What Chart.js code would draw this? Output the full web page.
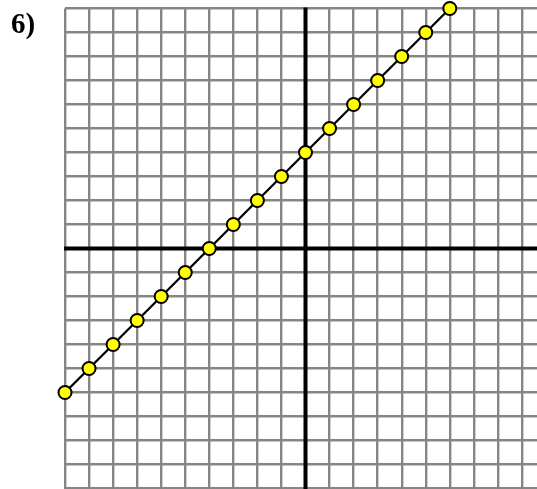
<!DOCTYPE html>
<html>
<head>
<meta charset="utf-8">
<script src="https://cdn.jsdelivr.net/npm/chart.js@4/dist/chart.umd.min.js"></script>
<style>
	html, body { margin: 0; padding: 0; overflow: hidden; background: #fff; }
	#wrap { position: relative; width: 537px; height: 489px; overflow: hidden; }
	#label { position: absolute; left: 11px; top: 7px; font: bold 29px "Liberation Serif", "Times New Roman", serif; line-height: 1.107; color: #000; }
	#myChart { position: absolute; left: 0; top: 0; }
</style>
</head>
<body>
<div id="wrap">
	<canvas id="myChart" width="562" height="497"></canvas>
	<div id="label">6)</div>
</div>
<script>
// plotted points (x, y)
const xValues = [-10, -9, -8, -7, -6, -5, -4, -3, -2, -1, 0, 1, 2, 3, 4, 5, 6];
const yValues = [-6, -5, -4, -3, -2, -1, 0, 1, 2, 3, 4, 5, 6, 7, 8, 9, 10];
const axisMin = -10;
const axisMax = 10;

const points = xValues.map((x, i) => ({ x: x, y: yValues[i] }));

// black x / y axes through the origin, drawn over the grey grid
const originAxes = {
	id: 'originAxes',
	beforeDatasetsDraw(chart) {
		const ctx = chart.ctx;
		const xs = chart.scales.x, ys = chart.scales.y;
		const area = chart.chartArea;
		const x0 = xs.getPixelForValue(0);
		const y0 = ys.getPixelForValue(0);
		ctx.save();
		ctx.strokeStyle = '#000';
		ctx.lineWidth = 4;
		ctx.beginPath();
		ctx.moveTo(x0, area.top - 1);
		ctx.lineTo(x0, area.bottom + 1);
		ctx.moveTo(area.left - 1, y0);
		ctx.lineTo(area.right + 1, y0);
		ctx.stroke();
		ctx.restore();
	}
};

const gridOpts = {
	color: '#858585',
	lineWidth: 2.4,
	drawTicks: false
};

var ctx = document.getElementById('myChart').getContext('2d');
var myChart = new Chart(ctx, {
	type: 'scatter',
	data: {
		datasets: [{
			data: points,
			showLine: true,
			borderColor: '#000',
			borderWidth: 2.3,
			pointRadius: 6.5,
			pointHoverRadius: 6.5,
			pointBorderWidth: 2,
			pointBackgroundColor: '#ffff00',
			pointBorderColor: '#000',
			clip: false
		}]
	},
	options: {
		responsive: false,
		animation: false,
		events: [],
		layout: {
			padding: { left: 65, top: 8, right: 16, bottom: 1 }
		},
		plugins: {
			legend: { display: false },
			tooltip: { enabled: false },
			title: { display: false }
		},
		scales: {
			x: {
				type: 'linear',
				min: axisMin,
				max: axisMax,
				ticks: { stepSize: 1, display: false },
				grid: gridOpts,
				border: { display: false }
			},
			y: {
				type: 'linear',
				min: axisMin,
				max: axisMax,
				ticks: { stepSize: 1, display: false },
				grid: gridOpts,
				border: { display: false }
			}
		}
	},
	plugins: [originAxes]
});
</script>
</body>
</html>
